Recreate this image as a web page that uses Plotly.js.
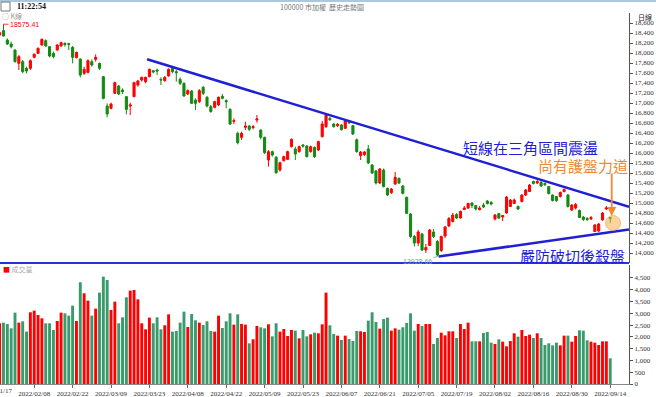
<!DOCTYPE html>
<html><head><meta charset="utf-8">
<script src="https://cdn.plot.ly/plotly-3.0.1.min.js"></script>
<style>html,body{margin:0;padding:0;background:#fff}#chart{width:656px;height:397px}</style>
</head><body><div id="chart"></div>
<script>
const dates = ["2022/01/18","2022/01/19","2022/01/20","2022/01/21","2022/01/24","2022/01/25","2022/01/26","2022/01/27","2022/02/07","2022/02/08",
"2022/02/09","2022/02/10","2022/02/11","2022/02/14","2022/02/15","2022/02/16","2022/02/17","2022/02/18","2022/02/21","2022/02/22",
"2022/02/23","2022/02/24","2022/02/25","2022/03/01","2022/03/02","2022/03/03","2022/03/04","2022/03/07","2022/03/08","2022/03/09",
"2022/03/10","2022/03/11","2022/03/14","2022/03/15","2022/03/16","2022/03/17","2022/03/18","2022/03/21","2022/03/22","2022/03/23",
"2022/03/24","2022/03/25","2022/03/28","2022/03/29","2022/03/30","2022/03/31","2022/04/01","2022/04/06","2022/04/07","2022/04/08",
"2022/04/11","2022/04/12","2022/04/13","2022/04/14","2022/04/15","2022/04/18","2022/04/19","2022/04/20","2022/04/21","2022/04/22",
"2022/04/25","2022/04/26","2022/04/27","2022/04/28","2022/04/29","2022/05/03","2022/05/04","2022/05/05","2022/05/06","2022/05/09",
"2022/05/10","2022/05/11","2022/05/12","2022/05/13","2022/05/16","2022/05/17","2022/05/18","2022/05/19","2022/05/20","2022/05/23",
"2022/05/24","2022/05/25","2022/05/26","2022/05/27","2022/05/30","2022/05/31","2022/06/01","2022/06/02","2022/06/06","2022/06/07",
"2022/06/08","2022/06/09","2022/06/10","2022/06/13","2022/06/14","2022/06/15","2022/06/16","2022/06/17","2022/06/20","2022/06/21",
"2022/06/22","2022/06/23","2022/06/24","2022/06/27","2022/06/28","2022/06/29","2022/06/30","2022/07/01","2022/07/04","2022/07/05",
"2022/07/06","2022/07/07","2022/07/08","2022/07/11","2022/07/12","2022/07/13","2022/07/14","2022/07/15","2022/07/18","2022/07/19",
"2022/07/20","2022/07/21","2022/07/22","2022/07/25","2022/07/26","2022/07/27","2022/07/28","2022/07/29","2022/08/01","2022/08/02",
"2022/08/03","2022/08/04","2022/08/05","2022/08/08","2022/08/09","2022/08/10","2022/08/11","2022/08/12","2022/08/15","2022/08/16",
"2022/08/17","2022/08/18","2022/08/19","2022/08/22","2022/08/23","2022/08/24","2022/08/25","2022/08/26","2022/08/29","2022/08/30",
"2022/08/31","2022/09/01","2022/09/02","2022/09/05","2022/09/06","2022/09/07","2022/09/08","2022/09/12","2022/09/13","2022/09/14"];

const open = [18360,18447,18260,18180,18060,17793,17827,17693,17693,17913,
17993,18160,18247,18127,17993,18060,18140,18193,18187,18113,
17907,17880,17593,17613,17827,17873,17793,17527,16940,16893,
17193,17340,17260,17127,16940,17127,17360,17460,17427,17527,
17647,17660,17473,17447,17540,17693,17627,17473,17393,17180,
17240,17060,17027,17313,17113,16927,16913,16960,17133,17047,
16873,16633,16393,16313,16513,16540,16507,16660,16460,16313,
15860,16027,15913,15660,15847,15873,16127,16080,16027,16160,
16140,16027,16113,16060,16327,16527,16693,16580,16547,16560,
16493,16627,16547,16267,15947,15967,16080,15760,15640,15400,
15660,15290,15207,15380,15493,15340,15113,14780,14330,14200,
14380,14060,14150,14420,14230,14050,14340,14540,14630,14770,
14700,14870,14900,15000,14950,14870,14960,15040,15010,14680,
14790,14720,14800,14930,14990,14930,15030,15160,15230,15430,
15400,15410,15390,15330,15160,15130,15130,15230,15160,14860,
14900,14850,14720,14690,14680,14430,14440,14660,14880,14710];

const high = [18427,18575.41,18293,18227,18073,17960,17860,17727,17873,17993,
18113,18293,18273,18140,18027,18180,18227,18213,18207,18140,
18027,17893,17727,17873,17873,17973,17807,17540,16993,17007,
17427,17360,17293,17140,17007,17427,17460,17527,17527,17687,
17660,17687,17513,17540,17693,17727,17660,17513,17413,17273,
17260,17093,17280,17340,17140,16960,17047,17133,17180,17073,
16893,16693,16427,16427,16627,16560,16560,16760,16473,16327,
16060,16047,15940,15827,15947,16047,16290,16127,16147,16180,
16160,16147,16133,16247,16640,16790,16720,16600,16600,16580,
16667,16650,16560,16290,16040,16040,16160,15780,15660,15700,
15690,15310,15300,15620,15510,15360,15130,14800,14360,14460,
14400,14180,14480,14480,14260,14350,14540,14720,14800,14800,
14850,14940,15010,15010,14960,14940,15000,15060,15040,14780,
14800,14760,15140,15080,15090,14950,15170,15280,15380,15450,
15460,15440,15410,15340,15170,15140,15230,15290,15180,14980,
15000,14870,14740,14720,14740,14580,14600,14820,14940,14720];

const low = [18340,18327,18160,18093,17807,17660,17593,17593,17660,17893,
17980,18147,18127,17913,17893,18047,18127,18127,18060,17793,
17893,17513,17560,17593,17727,17827,17660,17073,16713,16873,
17180,17160,17180,16773,16760,17113,17327,17427,17393,17513,
17593,17560,17360,17427,17527,17593,17427,17360,17127,17160,
16980,16860,17000,17160,16913,16807,16893,16940,17073,16893,
16560,16580,16173,16260,16460,16440,16473,16607,16273,15980,
15727,15927,15580,15627,15827,15860,16110,15860,16007,16107,
15913,16007,15900,16040,16310,16500,16640,16507,16520,16447,
16480,16580,16360,16007,15860,15940,15780,15580,15370,15380,
15310,15140,15180,15360,15380,15170,14780,14300,14130,14140,
14040,14000,14140,14300,13928.66,14020,14300,14520,14610,14680,
14690,14860,14880,14900,14850,14850,14900,14970,14950,14650,
14680,14640,14790,14920,14980,14860,15010,15140,15220,15370,
15380,15320,15340,15170,15030,15020,15110,15210,14910,14840,
14870,14700,14640,14640,14660,14420,14420,14650,14860,14600];

const close = [18407,18340,18180,18127,17827,17927,17627,17640,17847,17973,
18093,18273,18140,17940,17927,18160,18207,18167,18173,17913,
18013,17560,17673,17847,17760,17913,17693,17093,16780,16980,
17407,17180,17227,16873,16960,17407,17440,17513,17513,17673,
17620,17640,17460,17513,17673,17627,17607,17393,17140,17247,
16993,16993,17247,17193,16940,16827,17027,17113,17093,17027,
16580,16647,16207,16393,16540,16473,16527,16680,16313,16007,
16027,15960,15607,15807,15927,16027,16273,15980,16127,16140,
15927,16127,15927,16227,16580,16760,16667,16527,16573,16467,
16640,16607,16380,16027,16020,16020,15800,15600,15400,15680,
15330,15160,15280,15513,15400,15193,14793,14330,14200,14420,
14060,14110,14460,14330,13960,14330,14520,14690,14760,14700,
14830,14900,14990,14950,14880,14900,14920,14990,14980,14760,
14700,14750,15120,15060,15060,14880,15160,15260,15360,15390,
15430,15340,15370,15190,15050,15050,15210,15270,14930,14960,
14970,14710,14670,14670,14710,14560,14580,14800,14900,14690];

const volume = [2576,2604,2547,2363,3028,2604,2660,2222,3043,3113,
2929,2788,2576,2576,2293,2675,3028,3000,2901,3326,
2675,4316,3849,3538,2901,3198,3877,4556,4415,3142,
3495,2576,2830,3679,3962,3991,3594,2576,2321,2816,
2576,2830,2321,2491,2957,2222,2250,2604,3071,2420,
2972,2703,2604,2505,2660,2250,2222,2901,2377,2660,
3000,2519,2957,2547,2519,1726,1896,2462,2406,2363,
2533,2024,2576,2222,2335,2038,2293,2264,1939,2293,
2024,2109,2179,2151,2533,3877,2491,2123,2052,1868,
2052,1910,1826,2250,2236,2208,2689,3043,2632,2349,
2760,2816,2264,2363,2307,2406,2590,3000,2264,2547,
2462,2547,2547,1698,1953,2179,2066,2236,2236,1953,
2547,2335,2604,1811,1811,1811,2165,2208,1755,1698,
1896,1797,1599,1826,2151,2010,2293,2038,2094,1953,
2151,1953,1656,1726,1642,1755,1642,2052,2052,1797,
2038,2278,2264,1854,1797,1755,1656,1811,1811,1090];

const xTickLabels = ["2022/02/08","2022/02/22","2022/03/09","2022/03/23","2022/04/08","2022/04/22","2022/05/09","2022/05/23",
"2022/06/07","2022/06/21","2022/07/05","2022/07/19","2022/08/02","2022/08/16","2022/08/30","2022/09/14"];
const firstTickLabel = "2022/01/17";
const priceTicks = [14000,14200,14400,14600,14800,15000,15200,15400,15600,15800,16000,16200,16400,16600,16800,17000,17200,17400,17600,17800,18000,18200,18400,18600];
const volumeTicks = [0,500,1000,1500,2000,2500,3000,3500,4000,4500];

// trend lines: [category index, price]
const upperTrendX = [38.4, 163.9], upperTrendY = [17874, 14926];
const lowerTrendX = [114.3, 163.9], lowerTrendY = [13928.66, 14472];
const highLabel = "18575.41", lowLabel = "13928.66";

const RED = '#ff0000', GREEN = '#138a13', VGREEN = '#3a9a6c', BLUE = '#1f1fd6', ORANGE = '#f08a32';
const volColors = close.map((c, i) => c >= open[i] ? RED : VGREEN);
const hiIdx = high.indexOf(Math.max(...high));
const loIdx = low.indexOf(Math.min(...low));
const last = dates.length - 1;

const W = 656, H = 397;
const px = v => v / W, py = v => 1 - v / H;
const axFont = {family: 'Liberation Serif, serif', size: 7, color: '#333'};
const note = (x, y, text, font, extra) => Object.assign({xref: 'paper', yref: 'paper', x: px(x), y: py(y), text: text,
  showarrow: false, xanchor: 'center', yanchor: 'middle', font: font}, extra || {});

const traces = [
  {type: 'candlestick', x: dates, open: open, high: high, low: low, close: close,
   xaxis: 'x', yaxis: 'y', whiskerwidth: 0, hoverinfo: 'skip',
   increasing: {line: {color: RED, width: 1}, fillcolor: RED},
   decreasing: {line: {color: GREEN, width: 1}, fillcolor: GREEN}},
  {type: 'bar', x: dates, y: volume, xaxis: 'x', yaxis: 'y2', hoverinfo: 'skip',
   marker: {color: volColors, line: {width: 0}}}
];

const layout = {
  width: W, height: H, margin: {l: 0, r: 0, t: 0, b: 0},
  paper_bgcolor: '#fff', plot_bgcolor: '#fff', showlegend: false,
  bargap: 0.24, boxgap: 0.22,
  xaxis: {type: 'category', domain: [0, 629 / W], anchor: 'y2', range: [0.09, 163.9],
    rangeslider: {visible: false}, showgrid: false, zeroline: false,
    tickvals: xTickLabels, ticktext: xTickLabels, ticks: 'outside', ticklen: 3, tickcolor: '#666',
    tickfont: axFont, showline: true, linecolor: '#888', linewidth: 1, layer: 'below traces', tickangle: 0},
  yaxis: {domain: [py(263), py(13)], range: [13800, 18800], side: 'right', anchor: 'x',
    showgrid: false, zeroline: false, tickvals: priceTicks, tickformat: ',', ticks: 'outside',
    ticklen: 3, tickcolor: '#555', tickfont: axFont, showline: true, linecolor: '#555', linewidth: 1},
  yaxis2: {domain: [py(384), py(265)], range: [0, 5050], side: 'right', anchor: 'x',
    showgrid: false, zeroline: false, tickvals: volumeTicks, tickformat: ',', ticks: 'outside',
    ticklen: 3, tickcolor: '#555', tickfont: axFont, showline: true, linecolor: '#555', linewidth: 1},
  shapes: [
    {type: 'line', xref: 'paper', yref: 'paper', x0: 0, x1: 1, y0: py(1), y1: py(1), line: {color: '#a9c7df', width: 2}},
    {type: 'rect', xref: 'paper', yref: 'paper', x0: px(1), x1: px(10), y0: py(11), y1: py(2), line: {color: '#777', width: 1}, fillcolor: '#fff'},
    {type: 'line', xref: 'paper', yref: 'paper', x0: 0, x1: 629 / W, y0: py(263), y1: py(263), line: {color: '#2233e0', width: 2}},
    {type: 'line', xref: 'x', yref: 'y', x0: upperTrendX[0], x1: upperTrendX[1], y0: upperTrendY[0], y1: upperTrendY[1], line: {color: BLUE, width: 2.5}},
    {type: 'line', xref: 'x', yref: 'y', x0: lowerTrendX[0], x1: lowerTrendX[1], y0: lowerTrendY[0], y1: lowerTrendY[1], line: {color: BLUE, width: 2.5}},
    {type: 'circle', xref: 'x', yref: 'y', xsizemode: 'pixel', ysizemode: 'pixel', xanchor: last + 0.75, yanchor: 14600,
     x0: -7.5, x1: 7.5, y0: -7.5, y1: 7.5, fillcolor: 'rgba(245,175,80,0.55)', line: {color: 'rgba(240,160,60,0.6)', width: 1}}
  ],
  annotations: [
    note(15, 7, '<b>11:22:54</b>', {family: 'Liberation Serif, serif', size: 8, color: '#111'}, {xanchor: 'left'}),
    note(322, 7, '100000 市加權  歷史走勢圖', {family: 'Noto Sans CJK TC', size: 7, color: '#777'}),
    note(0, 16, '○ K線', {family: 'Noto Sans CJK TC', size: 7, color: '#999'}, {xanchor: 'left'}),
    note(645, 17, '日線', {family: 'Noto Sans CJK TC', size: 7, color: '#222'}),
    note(1, 269, '<span style="color:#ff0000">■</span> 成交量', {family: 'Noto Sans CJK TC', size: 7, color: '#aaa'}, {xanchor: 'left'}),
    note(-4.2, 391, firstTickLabel, axFont),
    {xref: 'x', yref: 'y', x: hiIdx, y: high[hiIdx], text: highLabel, showarrow: true, arrowhead: 0, arrowwidth: 0.8, arrowcolor: RED,
     ax: 21, ay: 0, xanchor: 'center', yanchor: 'middle', font: {family: 'Liberation Sans, sans-serif', size: 7, color: RED}},
    {xref: 'x', yref: 'y', x: loIdx, y: low[loIdx], text: lowLabel, showarrow: true, arrowhead: 0, arrowwidth: 0.8, arrowcolor: '#6aa88a',
     ax: -20, ay: 5, xanchor: 'center', yanchor: 'middle', font: {family: 'Liberation Sans, sans-serif', size: 7, color: '#6aa88a'}},
    note(530, 147, '短線在三角區間震盪', {family: 'Noto Sans CJK TC', size: 15, color: BLUE}),
    note(582.5, 165, '尚有護盤力道', {family: 'Noto Sans CJK TC', size: 15, color: ORANGE}),
    note(572, 255, '嚴防破切後殺盤', {family: 'Noto Sans CJK TC', size: 15, color: BLUE}),
    {xref: 'x', yref: 'y', x: last + 0.4, y: 14740, text: '', showarrow: true, arrowhead: 2, arrowsize: 1, arrowwidth: 1.8, arrowcolor: ORANGE, ax: 0, ay: -44}
  ]
};

Plotly.newPlot('chart', traces, layout, {displayModeBar: false, staticPlot: true});
</script>
</body></html>
